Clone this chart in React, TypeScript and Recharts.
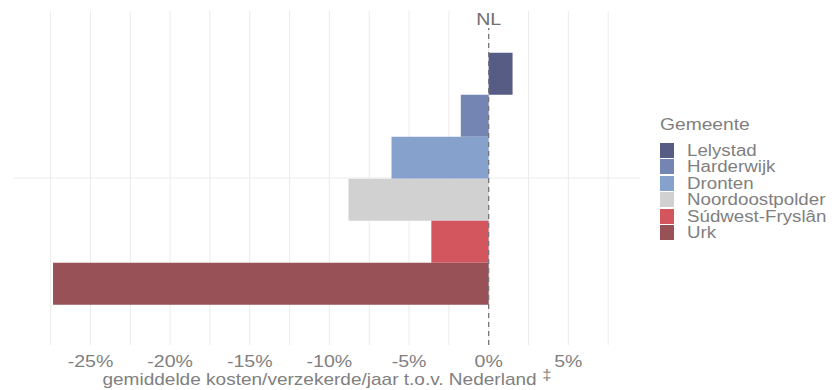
import React from 'react';
import {
  BarChart,
  Bar,
  XAxis,
  YAxis,
  CartesianGrid,
  ReferenceLine,
} from 'recharts';

const gemeenten = ['Lelystad', 'Harderwijk', 'Dronten', 'Noordoostpolder', 'Súdwest-Fryslân', 'Urk'];
const verschil = [1.5, -1.75, -6.1, -8.8, -3.6, -27.35];
const kleuren = ['#575c85', '#7585b3', '#87a1cd', '#d1d1d1', '#d3565f', '#975157'];
const xTicks = [-27.5, -25, -22.5, -20, -17.5, -15, -12.5, -10, -7.5, -5, -2.5, 0, 2.5, 5, 7.5];
const xLabels = [-25, -20, -15, -10, -5, 0, 5];
const xDomain = [-29.8, 9.5];

const row: Record<string, number | string> = { name: 'NL' };
gemeenten.forEach((g, i) => {
  row[g] = verschil[i];
});
const data = [row];

const textColor = '#7f7f7f';
const font = '"Liberation Sans", Arial, sans-serif';
const stretch = 1.15;

const XTick = (props: any) => {
  const { x, y, payload } = props;
  if (!xLabels.includes(payload.value)) return null;
  return (
    <text
      transform={`translate(${x},${y + 14}) scale(${stretch},1)`}
      textAnchor="middle"
      fill={textColor}
      fontSize={17}
      fontFamily={font}
    >
      {`${payload.value}%`}
    </text>
  );
};

const AxisTitle = (props: any) => {
  const { viewBox } = props;
  const cx = viewBox.x + viewBox.width / 2;
  return (
    <text
      transform={`translate(${cx},${viewBox.y + 40}) scale(1.12,1)`}
      textAnchor="middle"
      fill={textColor}
      fontSize={17}
      fontFamily={font}
    >
      gemiddelde kosten/verzekerde/jaar t.o.v. Nederland
      <tspan fontSize={15} dx={5} dy={-5}>‡</tspan>
    </text>
  );
};

const NLLabel = (props: any) => {
  const { viewBox } = props;
  return (
    <g>
      <rect x={viewBox.x - 6} y={viewBox.y} width={12} height={17} fill="#fff" />
      <text
        transform={`translate(${viewBox.x},${viewBox.y + 14}) scale(${stretch},1)`}
        textAnchor="middle"
        fill="#707070"
        fontSize={17}
        fontFamily={font}
      >
        NL
      </text>
    </g>
  );
};

const GemeenteLegend = () => (
  <div
    style={{
      position: 'absolute',
      left: 660,
      top: 116,
      width: 175,
      fontFamily: font,
      color: textColor,
    }}
  >
    <div
      style={{
        fontSize: 17,
        lineHeight: '18px',
        marginBottom: 8.5,
        transform: `scaleX(1.13)`,
        transformOrigin: 'left',
      }}
    >
      Gemeente
    </div>
    {gemeenten.map((g, i) => (
      <div key={g} style={{ display: 'flex', alignItems: 'flex-start', height: 16.5 }}>
        <div style={{ width: 14, height: 15, background: kleuren[i], marginRight: 13 }} />
        <div
          style={{
            fontSize: 16,
            lineHeight: '16.5px',
            whiteSpace: 'nowrap',
            transform: `scaleX(1.17)`,
            transformOrigin: 'left',
          }}
        >
          {g}
        </div>
      </div>
    ))}
  </div>
);

export default function App() {
  return (
    <div style={{ position: 'absolute', left: 0, top: 0, width: 835, height: 390, background: '#fff' }}>
      <BarChart
        width={835}
        height={390}
        data={data}
        layout="vertical"
        margin={{ top: 11, right: 195, bottom: 0, left: 14 }}
        barCategoryGap="12.5%"
        barGap={0}
      >
        <CartesianGrid
          stroke="#ebebeb"
          strokeWidth={1}
          horizontalCoordinatesGenerator={({ offset }: any) => [offset.top + offset.height / 2]}
          verticalCoordinatesGenerator={({ offset }: any) =>
            xTicks.map(
              (t) => offset.left + ((t - xDomain[0]) / (xDomain[1] - xDomain[0])) * offset.width
            )
          }
        />
        <XAxis
          type="number"
          domain={xDomain}
          allowDataOverflow
          ticks={xTicks}
          interval={0}
          axisLine={false}
          tickLine={false}
          height={45}
          tick={<XTick />}
          label={{ content: <AxisTitle /> }}
        />
        <YAxis type="category" dataKey="name" hide />
        {gemeenten.map((g, i) => (
          <Bar key={g} dataKey={g} fill={kleuren[i]} isAnimationActive={false} />
        ))}
        <ReferenceLine
          x={0}
          stroke="#777"
          strokeDasharray="5 4"
          strokeWidth={1.3}
          label={{ content: <NLLabel /> }}
        />
      </BarChart>
      <GemeenteLegend />
    </div>
  );
}
